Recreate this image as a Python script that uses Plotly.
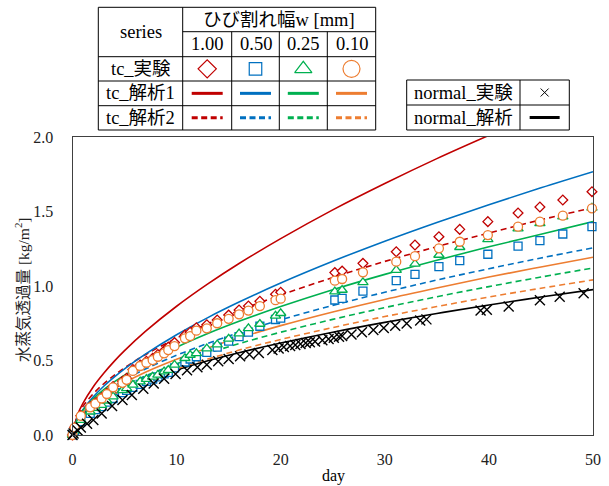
import plotly.graph_objects as go

# ---------------- data ----------------
width_labels = ["1.00", "0.50", "0.25", "0.10"]

analysis_days = [0, 0.5, 1, 2, 3, 4, 5, 7, 10, 13, 16, 20, 25, 30, 35, 40, 45, 50]
tc_calc1_100 = [0, 0.139, 0.212, 0.324, 0.414, 0.494, 0.566, 0.695, 0.864, 1.014, 1.151, 1.318, 1.511, 1.688, 1.855, 2.011, 2.162, 2.305]
tc_calc1_050 = [0, 0.112, 0.169, 0.256, 0.327, 0.388, 0.444, 0.543, 0.673, 0.788, 0.892, 1.020, 1.166, 1.301, 1.427, 1.546, 1.659, 1.767]
tc_calc1_025 = [0, 0.113, 0.166, 0.243, 0.304, 0.356, 0.402, 0.484, 0.589, 0.681, 0.763, 0.862, 0.975, 1.078, 1.173, 1.263, 1.347, 1.432]
tc_calc1_010 = [0, 0.104, 0.150, 0.217, 0.269, 0.313, 0.352, 0.421, 0.508, 0.584, 0.652, 0.734, 0.826, 0.910, 0.987, 1.060, 1.128, 1.193]
tc_calc2_100 = [0, 0.133, 0.192, 0.277, 0.344, 0.400, 0.451, 0.539, 0.650, 0.747, 0.835, 0.939, 1.057, 1.165, 1.264, 1.356, 1.444, 1.526]
tc_calc2_050 = [0, 0.109, 0.158, 0.228, 0.283, 0.329, 0.371, 0.443, 0.535, 0.615, 0.687, 0.773, 0.870, 0.958, 1.040, 1.116, 1.188, 1.256]
tc_calc2_025 = [0, 0.098, 0.141, 0.204, 0.252, 0.294, 0.331, 0.396, 0.478, 0.549, 0.613, 0.690, 0.776, 0.855, 0.928, 0.996, 1.060, 1.121]
tc_calc2_010 = [0, 0.091, 0.131, 0.189, 0.234, 0.273, 0.307, 0.367, 0.444, 0.510, 0.570, 0.641, 0.721, 0.795, 0.862, 0.926, 0.985, 1.041]
normal_calc = [0, 0.098, 0.138, 0.195, 0.239, 0.276, 0.309, 0.365, 0.436, 0.498, 0.552, 0.617, 0.690, 0.756, 0.816, 0.873, 0.926, 0.976]

tc_days = [0, 0.2, 0.8, 1.7, 2.2, 2.8, 3.3, 3.9, 4.8, 5.2, 5.8, 6.5, 7.1, 7.7, 8.2, 8.8, 9.2, 9.8,
           10.8, 11.3, 11.9, 12.9, 13.9, 15.0, 16.0, 16.9, 18.0, 19.5, 20.0,
           25.2, 25.9, 27.9, 31.1, 32.9, 35.2, 37.2, 39.9, 42.8, 44.9, 47.1, 49.9]
tc_exp_100 = [0, 0.05, 0.13, 0.19, 0.215, 0.25, 0.28, 0.325, 0.36, 0.38, 0.44, 0.47, 0.495, 0.515, 0.54, 0.565, 0.59, 0.62,
              0.67, 0.69, 0.72, 0.74, 0.772, 0.805, 0.839, 0.866, 0.898, 0.945, 0.958,
              1.09, 1.10, 1.152, 1.23, 1.275, 1.331, 1.38, 1.432, 1.49, 1.53, 1.577, 1.633]
tc_exp_050 = [0, 0.03, 0.09, 0.145, 0.17, 0.19, 0.22, 0.245, 0.285, 0.30, 0.32, 0.34, 0.36, 0.375, 0.39, 0.41, 0.42, 0.45,
              0.49, 0.51, 0.525, 0.555, 0.59, 0.63, 0.66, 0.69, 0.73, 0.775, 0.785,
              0.906, 0.917, 0.966, 1.036, 1.078, 1.13, 1.17, 1.213, 1.268, 1.304, 1.349, 1.398]
tc_exp_025 = [0, 0.03, 0.10, 0.156, 0.18, 0.20, 0.23, 0.257, 0.30, 0.313, 0.336, 0.358, 0.375, 0.39, 0.403, 0.425, 0.436, 0.47,
              0.515, 0.537, 0.548, 0.58, 0.607, 0.645, 0.68, 0.716, 0.745, 0.80, 0.817,
              0.962, 0.973, 1.025, 1.107, 1.148, 1.208, 1.26, 1.313, 1.385, 1.42, 1.465, 1.525]
tc_exp_010 = [0, 0.05, 0.128, 0.186, 0.21, 0.245, 0.275, 0.32, 0.35, 0.37, 0.43, 0.463, 0.485, 0.503, 0.525, 0.548, 0.57, 0.597,
              0.649, 0.664, 0.70, 0.716, 0.75, 0.78, 0.81, 0.835, 0.865, 0.905, 0.915,
              1.036, 1.047, 1.092, 1.163, 1.20, 1.253, 1.297, 1.342, 1.398, 1.432, 1.472, 1.521]

normal_days = [0, 0.1, 0.5, 0.8, 1.4, 2.0, 2.8, 3.8, 4.8, 5.7, 6.8, 7.8, 8.8, 9.9, 11.0, 12.0, 12.9, 14.0, 15.0, 16.1,
               17.0, 17.9, 19.2, 19.8, 20.3, 20.9, 21.4, 21.9, 22.4, 22.8, 23.3, 24.0, 24.6, 25.1, 25.6, 25.9,
               26.8, 27.8, 28.9, 29.9, 31.0, 32.1, 33.4, 34.0, 39.2, 39.8, 41.9, 44.9, 46.8, 49.1]
normal_exp = [0, 0.01, 0.03, 0.05, 0.075, 0.10, 0.145, 0.195, 0.235, 0.268, 0.31, 0.345, 0.378, 0.41, 0.435, 0.455, 0.472, 0.495, 0.51, 0.528,
              0.54, 0.55, 0.57, 0.58, 0.59, 0.597, 0.604, 0.61, 0.617, 0.622, 0.628, 0.636, 0.645, 0.652, 0.66, 0.665,
              0.675, 0.69, 0.705, 0.718, 0.733, 0.748, 0.768, 0.776, 0.835, 0.84, 0.862, 0.905, 0.928, 0.952]

# ---------------- style ----------------
W, H = 609, 486
SERIF = "Liberation Serif, 'Noto Sans CJK JP', serif"
colors = ["#C00000", "#0070C0", "#00B050", "#ED7D31"]
symbols = ["diamond", "square", "triangle-up", "circle"]
msizes = [7.5, 8, 9, 9]
leg_sizes = [14, 12.5, 15, 17]
DASH = "6px,4px"

calc1 = [tc_calc1_100, tc_calc1_050, tc_calc1_025, tc_calc1_010]
calc2 = [tc_calc2_100, tc_calc2_050, tc_calc2_025, tc_calc2_010]
exps = [tc_exp_100, tc_exp_050, tc_exp_025, tc_exp_010]

fig = go.Figure()

# analysis lines
fig.add_trace(go.Scatter(x=analysis_days, y=normal_calc, mode="lines", line=dict(color="black", width=1.6, shape="spline"),
                         name="normal_解析", showlegend=False))
for i in range(4):
    fig.add_trace(go.Scatter(x=analysis_days, y=calc2[i], mode="lines",
                             line=dict(color=colors[i], width=1.6, dash=DASH, shape="spline"),
                             name="tc_解析2 " + width_labels[i], showlegend=False))
for i in range(4):
    fig.add_trace(go.Scatter(x=analysis_days, y=calc1[i], mode="lines",
                             line=dict(color=colors[i], width=1.6, shape="spline"),
                             name="tc_解析1 " + width_labels[i], showlegend=False))
# experiments
for i in range(4):
    fig.add_trace(go.Scatter(x=tc_days, y=exps[i], mode="markers", cliponaxis=False,
                             marker=dict(symbol=symbols[i], size=msizes[i], color="white",
                                         line=dict(color=colors[i], width=1.3)),
                             name="tc_実験 " + width_labels[i], showlegend=False))
fig.add_trace(go.Scatter(x=normal_days, y=normal_exp, mode="markers", cliponaxis=False,
                         marker=dict(symbol="x-thin", size=10, line=dict(color="black", width=1.4)),
                         name="normal_実験", showlegend=False))

# ---------------- legend tables (pixel overlay) ----------------
shapes = []
annos = []
def hline(x0, x1, y):
    shapes.append(dict(type="line", xref="x2", yref="y2", x0=x0, x1=x1, y0=y, y1=y, line=dict(color="black", width=1)))
def vline(x, y0, y1):
    shapes.append(dict(type="line", xref="x2", yref="y2", x0=x, x1=x, y0=y0, y1=y1, line=dict(color="black", width=1)))
def text(x, y, s, size=18.5):
    annos.append(dict(xref="x2", yref="y2", x=x, y=y, text=s, showarrow=False, xanchor="center", yanchor="middle",
                      font=dict(family=SERIF, size=size, color="black")))

cx = [98.3, 182.7, 231.7, 279.3, 327.3, 375.7]
ry = [7.3, 31.7, 56.7, 81.0, 105.7, 130.0]
hline(cx[0], cx[-1], ry[0])
hline(cx[1], cx[-1], ry[1])
for y in ry[2:]:
    hline(cx[0], cx[-1], y)
vline(cx[0], ry[0], ry[-1])
vline(cx[1], ry[0], ry[-1])
vline(cx[-1], ry[0], ry[-1])
for x in cx[2:-1]:
    vline(x, ry[1], ry[-1])

text((cx[0] + cx[1]) / 2, (ry[0] + ry[2]) / 2, "series")
text((cx[1] + cx[-1]) / 2, (ry[0] + ry[1]) / 2, "ひび割れ幅w [mm]")
row_labels = ["tc_実験", "tc_解析1", "tc_解析2"]
for j, lab in enumerate(row_labels):
    text((cx[0] + cx[1]) / 2, (ry[j + 2] + ry[j + 3]) / 2, lab)
for i in range(4):
    ccx = (cx[i + 1] + cx[i + 2]) / 2
    text(ccx, (ry[1] + ry[2]) / 2, width_labels[i])
    fig.add_trace(go.Scatter(x=[ccx], y=[(ry[2] + ry[3]) / 2], mode="markers", xaxis="x2", yaxis="y2",
                             marker=dict(symbol=symbols[i], size=leg_sizes[i], color="white",
                                         line=dict(color=colors[i], width=1.2)), showlegend=False, hoverinfo="skip"))
    yy = (ry[3] + ry[4]) / 2
    fig.add_trace(go.Scatter(x=[ccx - 15.5, ccx + 15.5], y=[yy, yy], mode="lines", xaxis="x2", yaxis="y2",
                             line=dict(color=colors[i], width=3), showlegend=False, hoverinfo="skip"))
    yy = (ry[4] + ry[5]) / 2
    fig.add_trace(go.Scatter(x=[ccx - 15.5, ccx + 15.5], y=[yy, yy], mode="lines", xaxis="x2", yaxis="y2",
                             line=dict(color=colors[i], width=3, dash="6px,3.5px"), showlegend=False, hoverinfo="skip"))

nx = [406.7, 520.0, 569.3]
ny = [80.0, 105.0, 130.0]
for y in ny:
    hline(nx[0], nx[-1], y)
for x in nx:
    vline(x, ny[0], ny[-1])
text((nx[0] + nx[1]) / 2, (ny[0] + ny[1]) / 2, "normal_実験")
text((nx[0] + nx[1]) / 2, (ny[1] + ny[2]) / 2, "normal_解析")
ncx = (nx[1] + nx[2]) / 2
fig.add_trace(go.Scatter(x=[ncx], y=[(ny[0] + ny[1]) / 2], mode="markers", xaxis="x2", yaxis="y2",
                         marker=dict(symbol="x-thin", size=8, line=dict(color="black", width=1)),
                         showlegend=False, hoverinfo="skip"))
fig.add_trace(go.Scatter(x=[ncx - 15, ncx + 15], y=[(ny[1] + ny[2]) / 2] * 2, mode="lines", xaxis="x2", yaxis="y2",
                         line=dict(color="black", width=3), showlegend=False, hoverinfo="skip"))

# axis titles
text(333, 476, "day", size=16)
annos.append(dict(xref="x2", yref="y2", x=22, y=290, text="水蒸気透過量 [kg/m<sup>2</sup>]", showarrow=False,
                  textangle=-90, xanchor="center", yanchor="middle",
                  font=dict(family=SERIF, size=15.5, color="#222")))

xdom = [72.5 / W, 593 / W]
ydom = [(H - 435) / H, (H - 137) / H]
axis_common = dict(showline=True, mirror=True, linecolor="#404040", linewidth=1, showgrid=False, zeroline=False,
                   automargin=False, ticks="", tickfont=dict(family=SERIF, size=16, color="#222"))
fig.update_layout(
    template="none",
    width=W, height=H, margin=dict(l=0, r=0, t=0, b=0, pad=0, autoexpand=False),
    paper_bgcolor="white", plot_bgcolor="rgba(0,0,0,0)",
    showlegend=False,
    xaxis=dict(domain=xdom, range=[0, 50], tick0=0, dtick=10, ticklabelstandoff=10, **axis_common),
    yaxis=dict(domain=ydom, range=[0, 2], tick0=0, dtick=0.5, tickformat=".1f", ticklabelstandoff=15, **axis_common),
    xaxis2=dict(domain=[0, 1], range=[0, W], visible=False, anchor="y2", fixedrange=True, automargin=False),
    yaxis2=dict(domain=[0, 1], range=[H, 0], visible=False, anchor="x2", fixedrange=True, automargin=False),
    shapes=shapes, annotations=annos,
)
fig.write_html("out.html", config={"displayModeBar": False, "staticPlot": True},
               post_script="document.documentElement.style.margin='0';document.body.style.margin='0';"
                           "document.body.style.padding='0';document.body.style.overflow='hidden';")
